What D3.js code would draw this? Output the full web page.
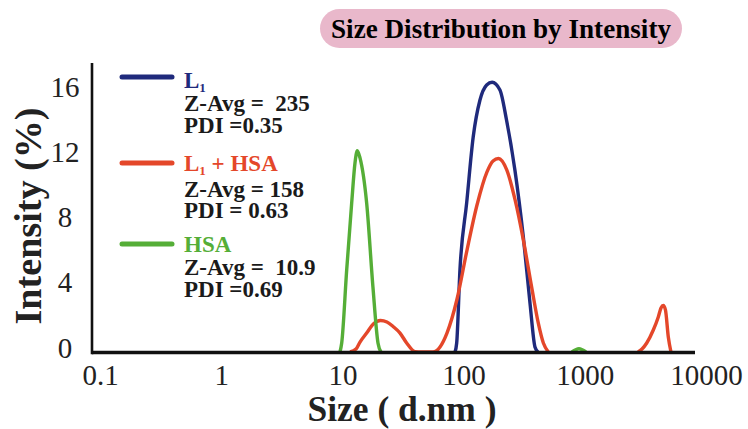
<!DOCTYPE html>
<html>
<head>
<meta charset="utf-8">
<script src="https://cdn.jsdelivr.net/npm/d3@7/dist/d3.min.js"></script>
<style>
body { margin: 0; background: #fff; }
text { font-family: "Liberation Serif", "Times New Roman", serif; }
</style>
</head>
<body>
<script>
"use strict"

// size (d.nm) and intensity (%)
const l1_size = [60, 84.9, 87.7, 93.3, 106, 120, 136.5, 155, 172, 199.5, 226, 265, 311, 353, 388, 411, 600]
const l1_int  = [0, 0, 0.55, 5.03, 9.14, 13.18, 15.45, 16.37, 16.54, 16.06, 14.22, 11.16, 7.05, 3.0, 0.31, 0, 0]

const mix_size = [8, 11.56, 12.95, 13.97, 15.85, 18.0, 20.6, 23.3, 26.3, 29.9, 33.9, 39.7, 45, 55.9, 63.9, 72.9, 88.3,
   106.7, 129, 156, 175, 194, 227, 266, 311, 364, 413, 455, 500, 1000, 2748, 2965, 3243, 3674, 4040, 4253, 4443,
   4628, 4886, 5141, 6000]
const mix_int  = [0, 0, 0.18, 0.61, 1.16, 1.72, 1.93, 1.84, 1.55, 1.16, 0.55, 0.02, 0, 0, 0.31, 1.16, 3.25,
   6.25, 9.01, 11.04, 11.71, 11.86, 11.16, 9.32, 6.87, 3.99, 1.78, 0.55, 0, 0, 0, 0.18, 0.55, 1.35, 2.15, 2.70, 2.85,
   2.58, 0.92, 0, 0]

const hsa_size = [7, 9.55, 9.87, 10.85, 11.93, 12.7, 13.27, 13.97, 15.85, 17.86, 19.66, 20.8, 25, 700, 783, 895, 1023, 1100, 2000]
const hsa_int  = [0, 0, 0.55, 5.03, 9.14, 11.59, 12.34, 11.9, 9.14, 3.99, 0.55, 0, 0, 0, 0, 0.2, 0, 0, 0]

const x_ticks = [0.1, 1, 10, 100, 1000, 10000]
const x_tick_labels = ['0.1', '1', '10', '100', '1000', '10000']
const y_ticks = [0, 4, 8, 12, 16]

const series_names = ['L1', 'L1 + HSA', 'HSA']
const z_avg = ['235', '158', '10.9']
const pdi = ['0.35', '0.63', '0.69']

const w = 748
const h = 429
const colors = ['#1f2a7c', '#e4472a', '#55ae37']

const x = d3.scaleLog([0.1, 10000], [100, 706])
const y = d3.scaleLinear([0, 16], [352, 91])

const svg = d3.select('body')
   .append('svg')
      .attr('width', w)
      .attr('height', h)

// title badge
svg.append('rect')
   .attr('x', 320).attr('y', 9)
   .attr('width', 362).attr('height', 39)
   .attr('rx', 19.5)
   .attr('fill', '#e9b8cb')
svg.append('text')
   .attr('x', 501).attr('y', 38)
   .attr('text-anchor', 'middle')
   .attr('font-size', 27)
   .attr('font-weight', 'bold')
   .attr('textLength', 340)
   .attr('lengthAdjust', 'spacingAndGlyphs')
   .text('Size Distribution by Intensity')

// curves
const series = [
   d3.zip(l1_size, l1_int),
   d3.zip(mix_size, mix_int),
   d3.zip(hsa_size, hsa_int)
]
const line = d3.line()
   .defined((d, i, arr) => !(d[1] === 0 && (arr[i - 1] || [0, 0])[1] === 0 && (arr[i + 1] || [0, 0])[1] === 0))
   .x(d => x(d[0]))
   .y(d => y(d[1]))
   .curve(d3.curveMonotoneX)

svg.selectAll('path.curve')
   .data(series)
   .enter()
   .append('path')
      .attr('class', 'curve')
      .attr('d', line)
      .attr('fill', 'none')
      .attr('stroke', (d, i) => colors[i])
      .attr('stroke-width', 3.4)
      .attr('stroke-linejoin', 'round')

// axes
const x_axis = d3.axisBottom(x)
   .tickValues(x_ticks)
   .tickFormat((d, i) => x_tick_labels[i])
   .tickSize(0)
   .tickPadding(0)
const gx = svg.append('g')
   .attr('transform', `translate(0, ${y(0)})`)
   .call(x_axis)
gx.select('.domain').remove()
gx.selectAll('text')
   .attr('dy', null)
   .attr('y', 33)
   .attr('font-size', 29)
   .attr('font-family', null)
   .attr('fill', '#222')

const y_axis = d3.axisLeft(y)
   .tickValues(y_ticks)
   .tickSize(0)
const gy = svg.append('g')
   .attr('transform', 'translate(92, 0)')
   .call(y_axis)
gy.select('.domain').remove()
gy.selectAll('text')
   .attr('x', -27)
   .attr('dy', '0.28em')
   .attr('text-anchor', 'middle')
   .attr('font-size', 29)
   .attr('font-family', null)
   .attr('fill', '#222')
   .attr('transform', 'translate(0, -3)')

svg.append('line')
   .attr('x1', 92).attr('x2', 695)
   .attr('y1', y(0) + 0.5).attr('y2', y(0) + 0.5)
   .attr('stroke', '#111').attr('stroke-width', 3.4)
svg.append('line')
   .attr('x1', 92).attr('x2', 92)
   .attr('y1', 63).attr('y2', y(0) + 2.2)
   .attr('stroke', '#111').attr('stroke-width', 2.6)

// axis titles
svg.append('text')
   .attr('x', 402).attr('y', 421)
   .attr('text-anchor', 'middle')
   .attr('font-size', 35)
   .attr('font-weight', 'bold')
   .attr('textLength', 189)
   .attr('lengthAdjust', 'spacingAndGlyphs')
   .attr('fill', '#222')
   .text('Size ( d.nm )')
svg.append('text')
   .attr('transform', 'translate(41, 216) rotate(-90)')
   .attr('text-anchor', 'middle')
   .attr('font-size', 38)
   .attr('font-weight', 'bold')
   .attr('textLength', 217)
   .attr('lengthAdjust', 'spacingAndGlyphs')
   .attr('fill', '#222')
   .text('Intensity (%)')

// legend
const legend_y = [88, 171, 252]
const legend = svg.selectAll('g.legend')
   .data(series_names)
   .enter()
   .append('g')
      .attr('class', 'legend')
      .attr('transform', (d, i) => `translate(0, ${legend_y[i]})`)

legend.append('line')
   .attr('x1', 122).attr('x2', 172)
   .attr('y1', (d, i) => i === 0 ? -11 : -8)
   .attr('y2', (d, i) => i === 0 ? -11 : -8)
   .attr('stroke', (d, i) => colors[i])
   .attr('stroke-width', 5)
   .attr('stroke-linecap', 'round')

const name_text = legend.append('text')
   .attr('x', 184)
   .attr('font-size', 23)
   .attr('font-weight', 'bold')
   .attr('fill', (d, i) => colors[i])
name_text.each(function (d) {
   const t = d3.select(this)
   if (d.startsWith('L1')) {
      t.append('tspan').text('L')
      t.append('tspan').attr('font-size', 13).attr('dy', 4).text('1')
      if (d.length > 2) t.append('tspan').attr('dy', -4).text(d.slice(2).replace(' + ', '  + '))
   } else {
      t.text(d)
   }
})

legend.append('text')
   .attr('x', 184)
   .attr('y', (d, i) => i === 1 ? 26 : 23)
   .attr('font-size', 23)
   .attr('font-weight', 'bold')
   .attr('fill', '#1a1a1a')
   .style('white-space', 'pre')
   .text((d, i) => i === 1 ? `Z-Avg = ${z_avg[i]}` : `Z-Avg =  ${z_avg[i]}`)

legend.append('text')
   .attr('x', 184)
   .attr('y', (d, i) => i === 1 ? 47 : 45)
   .attr('font-size', 23)
   .attr('font-weight', 'bold')
   .attr('fill', '#1a1a1a')
   .style('white-space', 'pre')
   .text((d, i) => i === 1 ? `PDI = ${pdi[i]}` : `PDI =${pdi[i]}`)
</script>
</body>
</html>
